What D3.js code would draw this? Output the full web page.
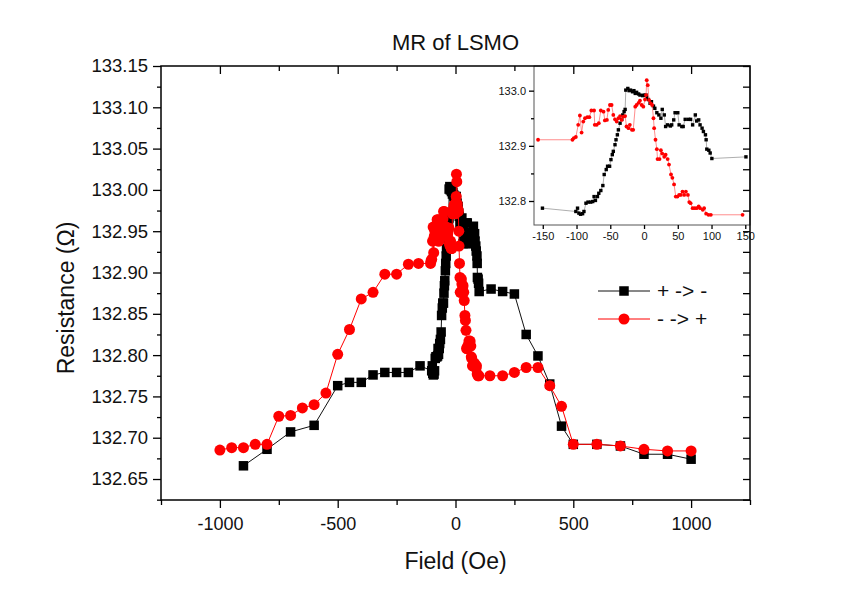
<!DOCTYPE html>
<html><head><meta charset="utf-8">
<script src="https://cdn.jsdelivr.net/npm/d3@7"></script>
<style>
html,body{margin:0;padding:0;background:#fff;}
svg{display:block;font-family:"Liberation Sans",Arial,sans-serif;}
</style></head>
<body>
<svg id="chart" width="859" height="595"></svg>
<script>
// ---------------- DATA ----------------
const title = "MR of LSMO";
const xLabel = "Field (Oe)";
const yLabel = "Resistance (\u03A9)";
const seriesNames = ["+ -> -", "- -> +"];
const xTicks = [-1000, -500, 0, 500, 1000];
const yTicks = [132.65, 132.70, 132.75, 132.80, 132.85, 132.90, 132.95, 133.00, 133.05, 133.10, 133.15];
const insetXTicks = [-150, -100, -50, 0, 50, 100, 150];
const insetYTicks = [132.8, 132.9, 133.0];

// "+ -> -" sweep, outer part (high field, descending)
const blackPosField = [1000, 900, 800, 700, 600, 500, 450, 400, 350, 300, 250, 200];
const blackPosRes   = [132.674, 132.680, 132.680, 132.690, 132.692, 132.692, 132.714, 132.765, 132.799, 132.825, 132.874, 132.877];
const blackNegField = [-200, -250, -300, -350, -400, -450, -500, -600, -700, -800, -900];
const blackNegRes   = [132.779, 132.779, 132.779, 132.776, 132.767, 132.767, 132.763, 132.715, 132.707, 132.686, 132.666];

// "- -> +" sweep, outer part (ascending)
const redNegField = [-1000, -950, -900, -850, -800, -750, -700, -650, -600, -550, -500, -450, -400, -350, -300, -250, -200];
const redNegRes   = [132.685, 132.688, 132.688, 132.692, 132.692, 132.726, 132.727, 132.736, 132.740, 132.754, 132.801, 132.831, 132.868, 132.876, 132.898, 132.898, 132.910];
const redPosField = [200, 250, 300, 350, 400, 450, 500, 600, 700, 800, 900, 1000];
const redPosRes   = [132.775, 132.779, 132.785, 132.785, 132.763, 132.738, 132.692, 132.692, 132.690, 132.686, 132.684, 132.684];

// low-field detail (shown in the inset and in the main plot)
const insetBlackField = [-150.5,-101,-98.5,-96.5,-94,-91,-89,-86,-83,-79,-76,-74,-72,-69,-67,-64,-61,-59,-56,-54,-51,-49,-47,-45.5,-43,-41.5,-39.5,-38,-35.5,-33,-31.5,-29.5,-28,-27,-24,-22,-20,-17,-15,-13,-11,-8,-6,-2,0,3,4,6.5,9,11,14,16,19,22,25,27,30,32,35,39,41,44,46,50,52,56,58,61,66,69,72,76,78,81,83,86,88,91,92,93,96,98,100.5,151];
const insetBlackRes = [132.787,132.781,132.787,132.778,132.776,132.777,132.781,132.796,132.798,132.798,132.799,132.808,132.801,132.808,132.814,132.819,132.828,132.848,132.857,132.863,132.863,132.875,132.884,132.890,132.902,132.911,132.920,132.929,132.941,132.948,132.956,132.962,132.966,133.001,133.004,133.000,133.001,132.998,133.000,132.995,132.997,132.994,132.992,132.991,132.992,132.992,132.988,132.984,132.977,132.980,132.972,132.968,132.960,132.956,132.950,132.966,132.956,132.935,132.938,132.936,132.938,132.947,132.960,132.960,132.938,132.935,132.935,132.948,132.948,132.948,132.938,132.956,132.945,132.947,132.938,132.932,132.926,132.920,132.911,132.894,132.892,132.887,132.877,132.880];
const insetRedField = [-157,-106,-104,-101,-97.5,-95,-92.5,-90,-87.5,-84,-81,-78,-74,-73,-70,-67,-64,-60,-58,-55,-53,-50.5,-48,-45.5,-43,-40.5,-38,-35.5,-33,-30.5,-28,-26,-23,-21,-18,-16,-13,-11,-8,-6,-3.5,-1,1.5,3,4,5.5,7.5,10,12,14,15,17,19,20,23,25,27,30,32,35,37,40,42,44.5,47,49.5,52,54.5,57,59.5,62,65,67,69,72,75,78,81,83,87,89,92,95.5,99,146];
const insetRedRes = [132.911,132.911,132.914,132.916,132.938,132.955,132.924,132.944,132.950,132.952,132.952,132.964,132.964,132.938,132.938,132.941,132.964,132.962,132.946,132.947,132.965,132.974,132.974,132.956,132.948,132.944,132.950,132.954,132.947,132.953,132.954,132.935,132.932,132.938,132.929,132.929,132.971,132.974,132.978,132.982,132.974,132.971,132.984,132.992,133.019,133.010,132.983,132.977,132.974,132.950,132.932,132.911,132.894,132.876,132.876,132.892,132.886,132.880,132.884,132.876,132.866,132.848,132.842,132.830,132.808,132.808,132.811,132.811,132.817,132.811,132.817,132.811,132.798,132.796,132.787,132.787,132.787,132.790,132.787,132.784,132.787,132.777,132.775,132.775,132.775];

// ---------------- BUILD ----------------
const zip = (f, r) => f.map((v, i) => ({f: v, r: r[i]}));
const insetBlack = zip(insetBlackField, insetBlackRes);
const insetRed = zip(insetRedField, insetRedRes);
const mainBlack = zip(blackPosField, blackPosRes)
  .concat(insetBlack.slice().reverse())
  .concat(zip(blackNegField, blackNegRes));
const mainRed = zip(redNegField, redNegRes)
  .concat(insetRed)
  .concat(zip(redPosField, redPosRes));

const hy = fmt => v => fmt(v).replace("\u2212", "-");
const font = "Liberation Sans, Arial, sans-serif";

const svg = d3.select("#chart");
const L = 161, R = 750, T = 66, B = 500;
const x = d3.scaleLinear().domain([-1250, 1250]).range([L, R]);
const y = d3.scaleLinear().domain([132.6246, 133.15]).range([B, T]);

// ---------- inset ----------
const iL = 534, iR = 750, iT = 66, iB = 225;
const xi = d3.scaleLinear().domain([-163, 157]).range([iL, iR]);
const yi = d3.scaleLinear().domain([132.7565, 133.0447]).range([iB, iT]);
const inset = svg.append("g");
inset.append("rect").attr("x", iL).attr("y", iT).attr("width", iR - iL).attr("height", iB - iT)
  .attr("fill", "#fff").attr("stroke", "#555").attr("stroke-width", 1);
const lineI = d3.line().x(d => xi(d.f)).y(d => yi(d.r));
inset.append("path").datum(insetBlack).attr("d", lineI).attr("fill", "none").attr("stroke", "#999").attr("stroke-width", 0.8);
inset.selectAll(".ib").data(insetBlack).join("rect").attr("class", "ib")
  .attr("x", d => xi(d.f) - 1.7).attr("y", d => yi(d.r) - 1.7).attr("width", 3.4).attr("height", 3.4).attr("fill", "#000");
inset.append("path").datum(insetRed).attr("d", lineI).attr("fill", "none").attr("stroke", "#ff7070").attr("stroke-width", 0.8);
inset.selectAll(".ir").data(insetRed).join("circle").attr("class", "ir")
  .attr("cx", d => xi(d.f)).attr("cy", d => yi(d.r)).attr("r", 1.9).attr("fill", "#f00");
// inset axes
const iax = inset.append("g").attr("transform", `translate(0,${iB})`)
  .call(d3.axisBottom(xi).tickValues(insetXTicks).tickSize(4).tickSizeOuter(0).tickPadding(3).tickFormat(hy(d3.format("d"))));
iax.select(".domain").remove();
iax.selectAll("text").attr("font-size", 11).attr("fill", "#111").attr("font-family", font);
const iay = inset.append("g").attr("transform", `translate(${iL},0)`)
  .call(d3.axisLeft(yi).tickValues(insetYTicks).tickSize(5).tickSizeOuter(0).tickPadding(3).tickFormat(d3.format(".1f")));
iay.select(".domain").remove();
iay.selectAll("text").attr("font-size", 11).attr("fill", "#111").attr("font-family", font);
const iayMinor = inset.append("g").attr("transform", `translate(${iL},0)`)
  .call(d3.axisLeft(yi).tickValues([132.85, 132.95]).tickSize(3).tickFormat(""));
iayMinor.select(".domain").remove();

// ---------- main data ----------
const line = d3.line().x(d => x(d.f)).y(d => y(d.r));
svg.append("path").datum(mainBlack).attr("d", line).attr("fill", "none").attr("stroke", "#111").attr("stroke-width", 1);
svg.selectAll(".mb").data(mainBlack).join("rect").attr("class", "mb")
  .attr("x", d => x(d.f) - 4.75).attr("y", d => y(d.r) - 4.75).attr("width", 9.5).attr("height", 9.5).attr("fill", "#000");
svg.append("path").datum(mainRed).attr("d", line).attr("fill", "none").attr("stroke", "#f00").attr("stroke-width", 1);
svg.selectAll(".mr").data(mainRed).join("circle").attr("class", "mr")
  .attr("cx", d => x(d.f)).attr("cy", d => y(d.r)).attr("r", 5.5).attr("fill", "#f00");

// ---------- main axes ----------
const xMinor = [-1250, -750, -250, 250, 750, 1250];
const yMinor = d3.range(0, 21).map(i => +(132.625 + i * 0.025).toFixed(3)).filter(v => !yTicks.some(t => Math.abs(t - v) < 1e-6));

const gx = svg.append("g").attr("transform", `translate(0,${B})`)
  .call(d3.axisBottom(x).tickValues(xTicks).tickSize(8).tickSizeOuter(0).tickPadding(9).tickFormat(hy(d3.format("d"))));
gx.select(".domain").remove();
gx.selectAll("text").attr("font-size", 18).attr("fill", "#111").attr("font-family", font);
const gxm = svg.append("g").attr("transform", `translate(0,${B})`)
  .call(d3.axisBottom(x).tickValues(xMinor).tickSize(5).tickFormat(""));
gxm.select(".domain").remove();

const gy = svg.append("g").attr("transform", `translate(${L},0)`)
  .call(d3.axisLeft(y).tickValues(yTicks).tickSize(8).tickSizeOuter(0).tickPadding(5).tickFormat(d3.format(".2f")));
gy.select(".domain").remove();
gy.selectAll("text").attr("font-size", 18.5).attr("fill", "#111").attr("font-family", font);
const gym = svg.append("g").attr("transform", `translate(${L},0)`)
  .call(d3.axisLeft(y).tickValues(yMinor).tickSize(4).tickFormat(""));
gym.select(".domain").remove();

// top & right (inward)
const gt = svg.append("g").attr("transform", `translate(0,${T})`)
  .call(d3.axisBottom(x).tickValues(xTicks).tickSize(8).tickFormat(""));
gt.select(".domain").remove();
const gtm = svg.append("g").attr("transform", `translate(0,${T})`)
  .call(d3.axisBottom(x).tickValues(xMinor.filter(v => Math.abs(v) < 1250)).tickSize(5).tickFormat(""));
gtm.select(".domain").remove();
const gr = svg.append("g").attr("transform", `translate(${R},0)`)
  .call(d3.axisLeft(y).tickValues(yTicks.concat(yMinor)).tickSize(7).tickFormat(""));
gr.select(".domain").remove();

svg.selectAll(".tick line").attr("stroke", "#000").attr("stroke-width", 1.3);

svg.append("rect").attr("x", L).attr("y", T).attr("width", R - L).attr("height", B - T)
  .attr("fill", "none").attr("stroke", "#000").attr("stroke-width", 1.5);

// ---------- text ----------
svg.append("text").attr("x", (L + R) / 2).attr("y", 50).attr("text-anchor", "middle")
  .attr("font-size", 22).attr("fill", "#111").text(title);
svg.append("text").attr("x", (L + R) / 2).attr("y", 569).attr("text-anchor", "middle")
  .attr("font-size", 23).attr("fill", "#111").text(xLabel);
svg.append("text").attr("transform", "translate(74,298) rotate(-90)").attr("text-anchor", "middle")
  .attr("font-size", 23).attr("fill", "#111").text(yLabel);

// ---------- legend ----------
const lg = svg.append("g");
const legendRows = [
  {name: seriesNames[0], color: "#111", shape: "square", yy: 291},
  {name: seriesNames[1], color: "#f00", shape: "circle", yy: 319}
];
legendRows.forEach(r => {
  lg.append("line").attr("x1", 598).attr("x2", 650).attr("y1", r.yy).attr("y2", r.yy)
    .attr("stroke", r.color).attr("stroke-width", 1);
  if (r.shape === "square") {
    lg.append("rect").attr("x", 624 - 4.75).attr("y", r.yy - 4.75).attr("width", 9.5).attr("height", 9.5).attr("fill", "#000");
  } else {
    lg.append("circle").attr("cx", 624).attr("cy", r.yy).attr("r", 5.5).attr("fill", "#f00");
  }
  lg.append("text").attr("x", 657).attr("y", r.yy + 7).attr("font-size", 21).attr("fill", "#111")
    .attr("xml:space", "preserve").style("white-space", "pre").text(r.name);
});
</script>
</body></html>
